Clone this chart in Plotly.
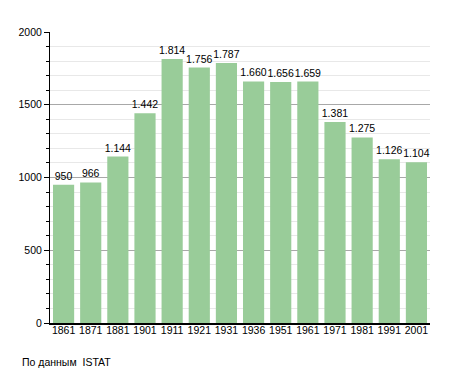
import plotly.graph_objects as go

years = ["1861", "1871", "1881", "1901", "1911", "1921", "1931", "1936", "1951", "1961", "1971", "1981", "1991", "2001"]
population = [950, 966, 1144, 1442, 1814, 1756, 1787, 1660, 1656, 1659, 1381, 1275, 1126, 1104]
labels = [f"{v:,}".replace(",", ".") for v in population]

FONT = "Liberation Sans, Arial"

fig = go.Figure(go.Bar(
    x=years, y=population, text=labels, textposition="outside",
    textfont=dict(size=10.5, color="black", family=FONT),
    marker=dict(color="#99cc99", line=dict(width=0)),
    cliponaxis=False,
))

fig.update_layout(
    width=447, height=365,
    margin=dict(l=42, r=25, t=24, b=50),
    plot_bgcolor="white", paper_bgcolor="white",
    bargap=0.22,
    showlegend=False,
    font=dict(family=FONT, size=10, color="black"),
    uniformtext=dict(mode="show", minsize=10.5),
)
fig.update_xaxes(
    type="category", showline=True, linecolor="black", linewidth=1.5,
    ticks="", tickfont=dict(size=10.5), showgrid=False, ticklabelstandoff=-3,
)
fig.update_yaxes(
    range=[0, 2000], dtick=500, showline=True, linecolor="black", linewidth=1,
    ticks="outside", ticklen=5, tickcolor="black",
    gridcolor="#a8a8a8", gridwidth=1, zeroline=False,
    minor=dict(dtick=100, showgrid=True, gridcolor="#e8e8e8", ticks="outside", ticklen=3, tickcolor="black"),
    tickfont=dict(size=10.5),
)
fig.add_annotation(text="По данным  ISTAT", xref="paper", yref="paper", x=-0.079, y=-0.134,
                   xanchor="left", yanchor="middle", showarrow=False, font=dict(size=10.5))

fig.write_html("out.html")
